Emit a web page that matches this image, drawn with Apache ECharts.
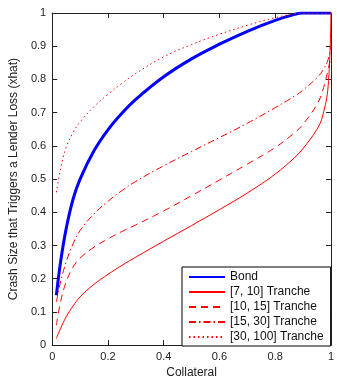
<!DOCTYPE html>
<html>
<head>
<meta charset="utf-8">
<script src="https://cdn.jsdelivr.net/npm/echarts@6/dist/echarts.min.js"></script>
<style>
  html, body { margin: 0; padding: 0; background: #fff; }
  #chart { width: 337px; height: 384px; }
</style>
</head>
<body>
<div id="chart"></div>
<script>
// collateral values (x) and crash size thresholds (y)
const collateral = [0.015, 0.03, 0.05, 0.075, 0.1, 0.15, 0.2, 0.25, 0.3, 0.4, 0.5, 0.6, 0.7, 0.8, 0.87, 0.9, 0.95, 0.97, 0.99, 1.0];

const bond      = [0.15, 0.25, 0.35, 0.44, 0.50, 0.585, 0.648, 0.698, 0.74, 0.808, 0.862, 0.906, 0.945, 0.978, 0.996, 1.0, 1.0, 1.0, 1.0, 1.0];
const tranche7  = [0.02, 0.05, 0.085, 0.118, 0.145, 0.183, 0.213, 0.24, 0.265, 0.313, 0.36, 0.408, 0.458, 0.515, 0.565, 0.592, 0.65, 0.69, 0.78, 1.0];
const tranche10 = [0.06, 0.13, 0.19, 0.235, 0.262, 0.295, 0.32, 0.342, 0.362, 0.404, 0.45, 0.497, 0.545, 0.595, 0.64, 0.665, 0.725, 0.765, 0.83, 0.87];
const tranche15 = [0.13, 0.19, 0.25, 0.305, 0.345, 0.395, 0.433, 0.465, 0.493, 0.54, 0.583, 0.625, 0.668, 0.715, 0.75, 0.768, 0.805, 0.826, 0.86, 0.9];
const tranche30 = [0.46, 0.53, 0.595, 0.64, 0.672, 0.718, 0.755, 0.788, 0.818, 0.868, 0.905, 0.936, 0.963, 0.986, 0.998, 1.0, 1.0, 1.0, 1.0, 1.0];

const seriesNames = ["Bond", "[7, 10] Tranche", "[10, 15] Tranche", "[15, 30] Tranche", "[30, 100] Tranche"];
const xTicks = [0, 0.2, 0.4, 0.6, 0.8, 1];
const yTicks = [0, 0.1, 0.2, 0.3, 0.4, 0.5, 0.6, 0.7, 0.8, 0.9, 1];

const FONT = "Liberation Sans";
const pairs = (ys) => collateral.map((x, i) => [x, ys[i]]);

const chart = echarts.init(document.getElementById("chart"), null, { renderer: "canvas" });

const axisCommon = {
  type: "value",
  min: 0,
  max: 1,
  axisLine: { show: true, onZero: false, lineStyle: { color: "#222", width: 1 } },
  axisTick: { show: true, inside: true, length: 5, lineStyle: { color: "#222" } },
  splitLine: { show: false },
};

const lineSeries = (name, ys, color, width, type) => ({
  name,
  type: "line",
  data: pairs(ys),
  smooth: 0.4,
  symbol: "none",
  silent: true,
  lineStyle: { color, width, type },
  itemStyle: { color },
});

const options = {
  backgroundColor: "#fff",
  animation: false,
  grid: { left: 45, right: 4, top: 13, bottom: 31, containLabel: false },
  legend: {
    data: seriesNames,
    orient: "vertical",
    left: 182,
    top: 267,
    padding: [3, 7, 2, 6],
    itemWidth: 36,
    itemHeight: 10,
    itemGap: 1,
    backgroundColor: "#fff",
    borderColor: "#000",
    borderWidth: 1,
    borderRadius: 0,
    itemStyle: { opacity: 0 },
    textStyle: { fontFamily: FONT, fontSize: 12, color: "#111", lineHeight: 14 },
  },
  xAxis: [
    {
      ...axisCommon,
      position: "bottom",
      interval: 0.2,
      name: "Collateral",
      nameLocation: "middle",
      nameGap: 17,
      nameTextStyle: { fontFamily: FONT, fontSize: 12, color: "#222" },
      axisLabel: {
        margin: 6,
        fontFamily: FONT,
        fontSize: 11,
        color: "#222",
        formatter: (v) => (xTicks.includes(+v.toFixed(1)) ? String(+v.toFixed(1)) : ""),
      },
    },
    { ...axisCommon, position: "top", interval: 0.2, axisLabel: { show: false } },
  ],
  yAxis: [
    {
      ...axisCommon,
      position: "left",
      interval: 0.1,
      name: "Crash Size that Triggers a Lender Loss (xhat)",
      nameLocation: "middle",
      nameGap: 26,
      nameTextStyle: { fontFamily: FONT, fontSize: 12, color: "#222" },
      axisLabel: {
        margin: 6,
        fontFamily: FONT,
        fontSize: 11,
        color: "#222",
        formatter: (v) => {
          const r = +v.toFixed(1);
          return yTicks.includes(r) ? String(r) : "";
        },
      },
    },
    { ...axisCommon, position: "right", interval: 0.1, axisLabel: { show: false } },
  ],
  series: [
    lineSeries(seriesNames[0], bond, "#0000ff", 3, "solid"),
    lineSeries(seriesNames[1], tranche7, "#ff0000", 1, "solid"),
    lineSeries(seriesNames[2], tranche10, "#ff0000", 1, [7, 5]),
    lineSeries(seriesNames[3], tranche15, "#ff0000", 1, [7, 3, 1.5, 3]),
    lineSeries(seriesNames[4], tranche30, "#ff0000", 1, [1.5, 3]),
  ],
};

chart.setOption(options);
</script>
</body>
</html>
